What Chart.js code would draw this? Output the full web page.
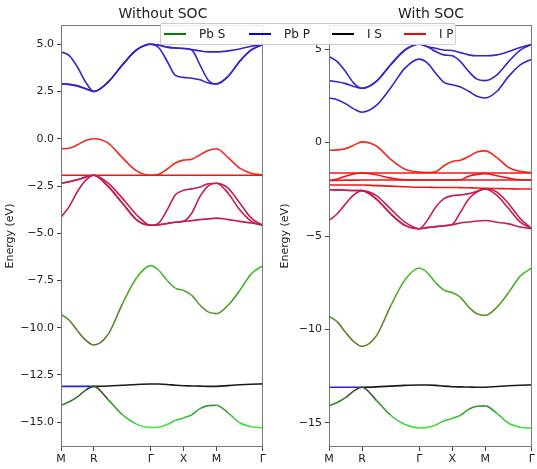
<!DOCTYPE html>
<html>
<head>
<meta charset="utf-8">
<script src="https://cdn.jsdelivr.net/npm/chart.js@4.4.1/dist/chart.umd.min.js"></script>
<style>
  body { margin: 0; background: #fff; font-family: "DejaVu Sans", sans-serif; }
  #wrap { position: relative; width: 537px; height: 469px; overflow: hidden; }
  canvas { position: absolute; top: 0; }
  .ttl { position: absolute; top: 5px; font-size: 14px; color: #222; transform: translateX(-50%); white-space: nowrap; }
  #legend { position: absolute; left: 160px; top: 23px; width: 294px; height: 20px; background: rgba(255,255,255,0.85);
            border: 1px solid #ccc; border-radius: 2px; font-size: 12px; color: #222; }
  #legend .it { position: absolute; top: 2px; display: flex; align-items: center; white-space: nowrap; line-height: 16px; }
  #legend i { display: inline-block; width: 22px; height: 1.5px; margin-right: 13px; }
</style>
</head>
<body>
<div id="wrap">
  <canvas id="left" width="268" height="469" style="left:0"></canvas>
  <canvas id="right" width="262" height="469" style="left:275px"></canvas>
  <div class="ttl" style="left:163px">Without SOC</div>
  <div class="ttl" style="left:431px">With SOC</div>
  <div id="legend">
    <span class="it" style="left:3px"><i style="background:green"></i>Pb S</span>
    <span class="it" style="left:88px"><i style="background:blue"></i>Pb P</span>
    <span class="it" style="left:171px"><i style="background:black"></i>I S</span>
    <span class="it" style="left:243px"><i style="background:red"></i>I P</span>
  </div>
</div>
<script>
// k-path positions (M-R-Γ-X-M-Γ), 4 steps per segment
const kpts = [0, 0.125, 0.25, 0.375, 0.5, 0.717, 0.933, 1.15, 1.366, 1.491, 1.616, 1.741, 1.866,
              1.991, 2.116, 2.241, 2.366, 2.543, 2.72, 2.896, 3.073];
const kTicks = [0, 0.5, 1.366, 1.866, 2.366, 3.073];
const kLabels = ['M', 'R', 'Γ', 'X', 'M', 'Γ'];
const leftYTicks = [-15, -12.5, -10, -7.5, -5, -2.5, 0, 2.5, 5];
const rightYTicks = [-15, -10, -5, 0, 5];

// Without SOC
const cb1 = [2.9, 2.88, 2.8, 2.65, 2.5, 3.0, 3.9, 4.7, 5.0, 4.8, 4.1, 3.35, 3.25, 3.2, 3.12, 2.95, 2.9, 3.3, 4.1, 4.7, 5.0];
const cb2 = [2.9, 2.88, 2.8, 2.65, 2.5, 3.0, 3.9, 4.7, 5.0, 4.95, 4.85, 4.8, 4.78, 4.7, 3.9, 3.1, 2.9, 3.3, 4.1, 4.7, 5.0];
const cb3 = [4.6, 4.4, 3.8, 3.0, 2.5, 3.0, 3.9, 4.7, 5.0, 4.95, 4.85, 4.8, 4.78, 4.72, 4.65, 4.6, 4.6, 4.65, 4.75, 4.9, 5.0];
const vbTop = [-0.53, -0.5, -0.32, -0.09, 0.0, -0.23, -1.0, -1.7, -1.93, -1.88, -1.6, -1.28, -1.13, -1.08, -0.85, -0.62, -0.53, -1.0, -1.55, -1.82, -1.93];
const vbFlat = [-1.93, -1.93, -1.93, -1.93, -1.93, -1.93, -1.93, -1.93, -1.93, -1.93, -1.93, -1.93, -1.93, -1.93, -1.93, -1.93, -1.93, -1.93, -1.93, -1.93, -1.93];
const vbB = [-2.35, -2.27, -2.17, -2.03, -1.93, -2.35, -3.14, -4.02, -4.58, -4.45, -3.76, -2.96, -2.73, -2.65, -2.55, -2.38, -2.35, -2.61, -3.4, -4.2, -4.58];
const vbC = [-2.35, -2.27, -2.17, -2.03, -1.93, -2.52, -3.4, -4.29, -4.58, -4.55, -4.48, -4.42, -4.37, -3.93, -3.05, -2.49, -2.35, -2.88, -3.76, -4.37, -4.58];
const vbD = [-4.15, -3.59, -2.79, -2.2, -1.93, -2.52, -3.4, -4.29, -4.58, -4.55, -4.48, -4.42, -4.37, -4.33, -4.28, -4.24, -4.2, -4.28, -4.37, -4.46, -4.58];

// Pb s / I s bands (same in both panels)
const gUpper = [-9.29, -9.6, -10.16, -10.65, -10.91, -10.35, -8.75, -7.35, -6.71, -6.97, -7.5, -7.9, -8.03, -8.29, -8.81, -9.16, -9.25, -8.81, -8.03, -7.15, -6.71];
const gLower = [-14.1, -13.92, -13.66, -13.3, -13.1, -13.8, -14.6, -15.1, -15.28, -15.25, -15.12, -14.9, -14.77, -14.6, -14.28, -14.12, -14.1, -14.5, -15.03, -15.24, -15.29];
const iS = [-13.1, -13.1, -13.1, -13.1, -13.1, -13.08, -13.04, -13.0, -12.98, -12.98, -13.0, -13.04, -13.07, -13.08, -13.09, -13.1, -13.1, -13.06, -13.02, -12.99, -12.97];

// With SOC
const scb1 = [2.39, 2.3, 2.09, 1.81, 1.63, 1.99, 2.93, 3.99, 4.47, 4.26, 3.72, 3.23, 3.1, 2.98, 2.75, 2.48, 2.39, 2.75, 3.55, 4.17, 4.47];
const scb2 = [3.32, 3.26, 3.16, 3.01, 2.91, 3.28, 4.17, 4.96, 5.27, 5.14, 4.88, 4.7, 4.65, 4.34, 3.81, 3.4, 3.32, 3.63, 4.34, 4.96, 5.27];
const scb3 = [4.61, 4.34, 3.81, 3.19, 2.91, 3.28, 4.17, 4.96, 5.27, 5.14, 5.05, 4.96, 4.93, 4.82, 4.7, 4.65, 4.65, 4.7, 4.88, 5.1, 5.27];
const svTop = [-0.41, -0.39, -0.32, -0.14, 0.04, -0.18, -0.89, -1.42, -1.58, -1.6, -1.56, -1.24, -1.01, -0.94, -0.74, -0.5, -0.44, -0.8, -1.33, -1.54, -1.6];
const svFlat1 = [-1.63, -1.63, -1.63, -1.63, -1.63, -1.63, -1.63, -1.63, -1.63, -1.63, -1.63, -1.63, -1.63, -1.63, -1.63, -1.63, -1.63, -1.63, -1.63, -1.63, -1.63];
const svFlat2 = [-2.02, -2.02, -2.01, -2.01, -2.0, -2.0, -2.0, -2.0, -2.0, -2.0, -2.0, -2.0, -2.0, -2.0, -2.0, -2.0, -2.0, -2.0, -2.0, -2.0, -2.0];
const svBump = [-2.04, -1.95, -1.8, -1.68, -1.63, -1.72, -1.9, -1.99, -2.0, -2.0, -2.0, -2.0, -2.0, -1.99, -1.8, -1.7, -1.66, -1.77, -1.9, -1.99, -2.0];
const svMid = [-2.27, -2.27, -2.27, -2.27, -2.27, -2.3, -2.33, -2.36, -2.39, -2.39, -2.4, -2.4, -2.4, -2.41, -2.42, -2.43, -2.45, -2.46, -2.47, -2.48, -2.48];
const svB = [-2.52, -2.53, -2.55, -2.56, -2.57, -2.84, -3.55, -4.26, -4.61, -4.15, -3.45, -3.0, -2.84, -2.8, -2.73, -2.61, -2.48, -2.65, -3.27, -4.07, -4.61];
const svC = [-2.52, -2.53, -2.55, -2.56, -2.57, -3.02, -3.81, -4.43, -4.61, -4.55, -4.5, -4.45, -4.38, -3.72, -3.02, -2.63, -2.48, -2.83, -3.53, -4.26, -4.61];
const svD = [-4.17, -3.81, -3.28, -2.8, -2.57, -3.02, -3.81, -4.43, -4.61, -4.55, -4.5, -4.45, -4.4, -4.3, -4.25, -4.2, -4.17, -4.26, -4.35, -4.52, -4.61];

const BLUE = '#3a22c8', ORANGE = '#f02a1e', RED = '#f41414', CRIMSON = '#c41e50';

function hex(c) { return [1, 3, 5].map(i => parseInt(c.slice(i, i + 2), 16)); }
// colour a band segment by energy, going from cLo (at lo) to cHi (at hi)
function shade(lo, hi, cLo, cHi) {
  const a = hex(cLo), b = hex(cHi);
  return ctx => {
    const e = (ctx.p0.parsed.y + ctx.p1.parsed.y) / 2;
    const t = Math.max(0, Math.min(1, (e - lo) / (hi - lo)));
    const m = a.map((v, i) => Math.round(v + (b[i] - v) * t));
    return `rgb(${m.join(',')})`;
  };
}

function band(data, color, seg) {
  return {
    data: data.map((y, i) => ({ x: kpts[i], y })),
    borderColor: color,
    borderWidth: 1.6,
    pointRadius: 0,
    cubicInterpolationMode: 'monotone',
    segment: seg ? { borderColor: seg } : undefined
  };
}

function sBands() {
  return [
    band(gUpper, '#5c7a22', shade(-10.9, -6.7, '#5e6e24', '#46c22c')),
    band(gLower, '#3ee03e', shade(-15.3, -13.1, '#3eea3e', '#33402a')),
    band(iS, '#111', ctx => ctx.p1.parsed.x <= 0.5 ? '#2424d4' : '#1a1a1a')
  ];
}

const frame = {
  id: 'frame',
  afterDatasetsDraw(chart) {
    const { ctx, chartArea: a } = chart;
    ctx.save();
    ctx.strokeStyle = '#777';
    ctx.lineWidth = 1;
    ctx.strokeRect(a.left + 0.5, a.top + 0.5, a.width - 1, a.height - 1);
    ctx.restore();
  }
};

function makeChart(id, datasets, yTicks, yMin, yMax, axisW, fmt) {
  new Chart(document.getElementById(id), {
    type: 'line',
    data: { datasets },
    plugins: [frame],
    options: {
      responsive: false,
      animation: false,
      layout: { padding: { top: 25, right: 0, bottom: 0, left: 0 } },
      plugins: { legend: { display: false }, tooltip: { enabled: false } },
      scales: {
        x: {
          type: 'linear', min: 0, max: 3.073,
          grid: { drawOnChartArea: false, tickLength: 4, color: '#444' },
          border: { display: false },
          afterBuildTicks: s => { s.ticks = kTicks.map(v => ({ value: v })); },
          afterFit: s => { s.height = 22; },
          ticks: { color: '#222', font: { size: 11, family: 'DejaVu Sans' }, padding: 2, maxRotation: 0,
                   callback: (v, i) => kLabels[i] }
        },
        y: {
          min: yMin, max: yMax,
          grid: { drawOnChartArea: false, tickLength: 4, color: '#444' },
          border: { display: false },
          afterBuildTicks: s => { s.ticks = yTicks.map(v => ({ value: v })); },
          afterFit: s => { s.width = axisW; },
          ticks: { color: '#222', font: { size: 11, family: 'DejaVu Sans' }, padding: 3, callback: fmt },
          title: { display: true, text: 'Energy (eV)', color: '#222', font: { size: 11, family: 'DejaVu Sans' },
                   padding: { top: 4, bottom: 0 } }
        }
      }
    }
  });
}

const leftSets = [
  band(cb1, BLUE), band(cb2, BLUE), band(cb3, BLUE),
  band(vbD, CRIMSON), band(vbC, CRIMSON), band(vbB, CRIMSON),
  band(vbFlat, RED), band(vbTop, ORANGE),
  ...sBands()
];
const rightSets = [
  band(scb1, BLUE), band(scb2, BLUE), band(scb3, BLUE),
  band(svD, CRIMSON), band(svC, CRIMSON), band(svB, CRIMSON),
  band(svMid, RED), band(svFlat2, RED), band(svBump, RED), band(svFlat1, RED), band(svTop, ORANGE),
  ...sBands()
];

makeChart('left', leftSets, leftYTicks, -16.31, 6.02, 61, v => v.toFixed(1).replace('-', '\u2212'));
makeChart('right', rightSets, rightYTicks, -16.3, 6.3, 54, v => String(v).replace('-', '\u2212'));
</script>
</body>
</html>
